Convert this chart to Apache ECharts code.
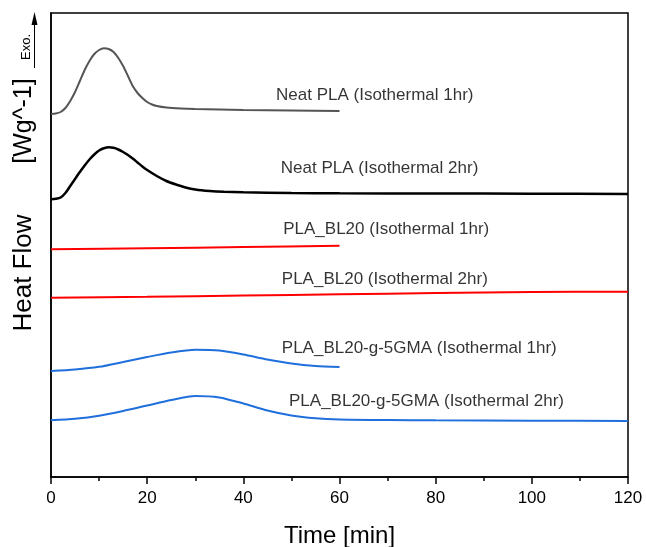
<!DOCTYPE html>
<html>
<head>
<meta charset="utf-8">
<script src="https://cdn.jsdelivr.net/npm/echarts@6/dist/echarts.min.js"></script>
<style>
  html, body { margin: 0; padding: 0; background: #fff; }
  #chart { width: 646px; height: 547px; }
</style>
</head>
<body>
<div id="chart"></div>
<script>
// DSC isothermal crystallisation traces (heat flow, offset, arbitrary units) vs time in minutes
const neatPla1h = [[0,36.3],[1,36.35],[2,36.5],[3,36.9],[4,37.6],[5,38.5],[6,39.6],[7,40.7],[8,41.6],[9,42.3],[10,42.7],[11,42.87],[12,42.8],[13,42.5],[14,41.9],[15,41.1],[16,40.1],[17,39.1],[18,38.4],[19,37.9],[20,37.5],[21,37.25],[22,37.1],[24,36.95],[27,36.85],[30,36.8],[40,36.7],[50,36.65],[60,36.6]];
const neatPla2h = [[0,27.77],[1,27.82],[2,27.95],[3,28.4],[4,29.1],[5,29.8],[6,30.5],[7,31.15],[8,31.75],[9,32.25],[10,32.65],[11,32.87],[12,32.97],[13,32.92],[14,32.75],[15,32.5],[16,32.2],[17,31.85],[18,31.45],[19,31.05],[20,30.7],[22,30.1],[24,29.6],[26,29.25],[28,28.95],[30,28.75],[33,28.6],[36,28.52],[40,28.47],[50,28.4],[60,28.37],[80,28.35],[100,28.33],[120,28.3]];
const bl20_1h = [[0,22.77],[20,22.87],[40,23.0],[60,23.13]];
const bl20_2h = [[0,17.93],[20,18.02],[40,18.15],[60,18.27],[80,18.4],[100,18.5],[120,18.53]];
const gma1h = [[0,10.6],[5,10.75],[10,11.02],[15,11.5],[20,12.0],[25,12.45],[30,12.72],[35,12.65],[40,12.25],[45,11.75],[50,11.35],[55,11.1],[60,11.0]];
const gma2h = [[0,5.67],[5,5.82],[10,6.12],[15,6.6],[20,7.15],[25,7.7],[30,8.1],[35,7.95],[40,7.35],[45,6.65],[50,6.15],[55,5.87],[60,5.75],[70,5.7],[80,5.67],[100,5.63],[120,5.6]];

// Curve annotations: [time, heat flow, text]
const curveLabels = [
  [46.8, 38.2, 'Neat PLA (Isothermal 1hr)'],
  [47.8, 30.87, 'Neat PLA (Isothermal 2hr)'],
  [48.3, 24.77, 'PLA_BL20 (Isothermal 1hr)'],
  [48.0, 19.77, 'PLA_BL20 (Isothermal 2hr)'],
  [48.0, 12.87, 'PLA_BL20-g-5GMA (Isothermal 1hr)'],
  [49.5, 7.53, 'PLA_BL20-g-5GMA (Isothermal 2hr)']
];

const FONT = 'Liberation Sans, Arial, sans-serif';

function trace(name, data, color, width) {
  return {
    name, type: 'line', data, smooth: 0.25, symbol: 'none',
    lineStyle: { color, width }, z: 3
  };
}

const chart = echarts.init(document.getElementById('chart'), null, { renderer: 'canvas' });
chart.setOption({
  animation: false,
  backgroundColor: '#fff',
  grid: {
    left: 51, right: 18, top: 13, bottom: 70, show: true,
    borderColor: '#000', borderWidth: 1.5, outerBoundsMode: 'none', containLabel: false
  },
  xAxis: {
    type: 'value', min: 0, max: 120, interval: 20,
    name: 'Time [min]', nameLocation: 'middle', nameGap: 47,
    nameTextStyle: { fontFamily: FONT, fontSize: 24, color: '#000' },
    axisLine: { lineStyle: { color: '#000', width: 1.5 } },
    axisTick: { show: true, inside: false, length: 7, lineStyle: { color: '#000', width: 1.5 } },
    minorTick: { show: true, splitNumber: 2, length: 4, lineStyle: { color: '#000', width: 1.5 } },
    axisLabel: { fontFamily: FONT, fontSize: 17, color: '#000', margin: 13 },
    splitLine: { show: false }
  },
  yAxis: {
    type: 'value', min: 0, max: 46.4,
    axisLine: { show: true, lineStyle: { color: '#000', width: 1.5 } },
    axisTick: { show: false }, axisLabel: { show: false }, splitLine: { show: false }
  },
  series: [
    trace('Neat PLA (Isothermal 1hr)', neatPla1h, '#555555', 2),
    trace('Neat PLA (Isothermal 2hr)', neatPla2h, '#000000', 2.5),
    trace('PLA_BL20 (Isothermal 1hr)', bl20_1h, '#ff0000', 2),
    trace('PLA_BL20 (Isothermal 2hr)', bl20_2h, '#ff0000', 2),
    trace('PLA_BL20-g-5GMA (Isothermal 1hr)', gma1h, '#1f6fdc', 2),
    trace('PLA_BL20-g-5GMA (Isothermal 2hr)', gma2h, '#1f6fdc', 2),
    {
      name: 'labels', type: 'scatter', symbolSize: 0, data: curveLabels, z: 5,
      label: {
        show: true, position: 'right', distance: 0,
        formatter: p => p.value[2],
        fontFamily: FONT, fontSize: 17, color: '#000'
      }
    }
  ],
  graphic: [
    { type: 'text', x: 24, y: 121, rotation: Math.PI / 2,
      style: { text: '[Wg^-1]', fontFamily: FONT, fontSize: 25, fill: '#000', align: 'center', verticalAlign: 'middle' } },
    { type: 'text', x: 24, y: 273, rotation: Math.PI / 2,
      style: { text: 'Heat Flow', fontFamily: FONT, fontSize: 26, fill: '#000', align: 'center', verticalAlign: 'middle' } },
    { type: 'text', x: 26, y: 47, rotation: Math.PI / 2,
      style: { text: 'Exo.', fontFamily: FONT, fontSize: 13, fill: '#000', align: 'center', verticalAlign: 'middle' } },
    { type: 'line', shape: { x1: 34.5, y1: 68, x2: 34.5, y2: 22 }, style: { stroke: '#000', lineWidth: 1 } },
    { type: 'polygon', shape: { points: [[31.5, 25], [34.5, 12], [37.5, 25]] }, style: { fill: '#000' } }
  ]
});
</script>
</body>
</html>
